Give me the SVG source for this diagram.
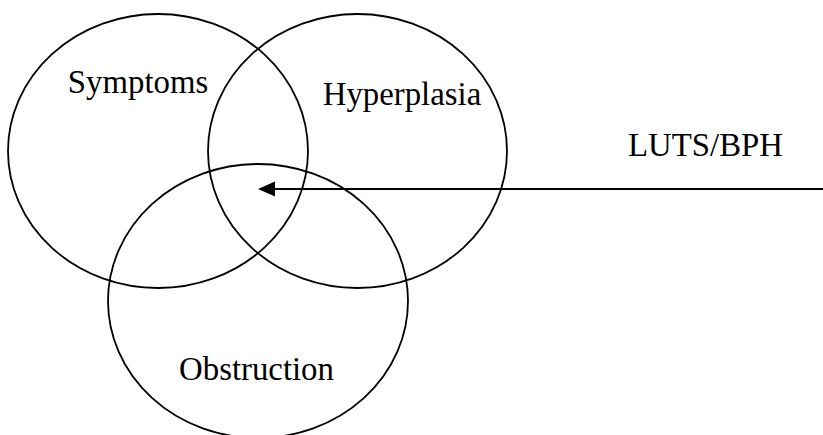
<svg xmlns="http://www.w3.org/2000/svg" width="823" height="435" viewBox="0 0 823 435">
<style>
.c{fill:none;stroke:#000;stroke-width:1.8}
.t{font-family:"Liberation Serif","Times New Roman",serif;font-size:32.8px;fill:#000;text-anchor:middle}
.a{stroke:#000;stroke-width:2;fill:none}
</style>
<defs>
<marker id="ah" markerWidth="17" markerHeight="15" refX="0" refY="7.5" orient="auto-start-reverse" markerUnits="userSpaceOnUse">
<path d="M0,0 L17,7.5 L0,15 Z" fill="#000"/>
</marker>
</defs>
<rect width="823" height="435" fill="#fff"/>
<g id="symptoms"><ellipse class="c" cx="158" cy="151" rx="150" ry="137"/><text class="t" x="138" y="93">Symptoms</text></g>
<g id="hyperplasia"><ellipse class="c" cx="357.5" cy="151" rx="149.5" ry="137"/><text class="t" x="402" y="105">Hyperplasia</text></g>
<g id="obstruction"><ellipse class="c" cx="258" cy="301" rx="150" ry="137"/><text class="t" x="256.5" y="380">Obstruction</text></g>
<g id="luts"><text class="t" x="705.5" y="156">LUTS/BPH</text></g>
<g id="connectors"><line class="a" x1="823" y1="189" x2="275" y2="189"/><path d="M258,189 L275,181.5 L275,196.5 Z" fill="#000"/></g>
</svg>
